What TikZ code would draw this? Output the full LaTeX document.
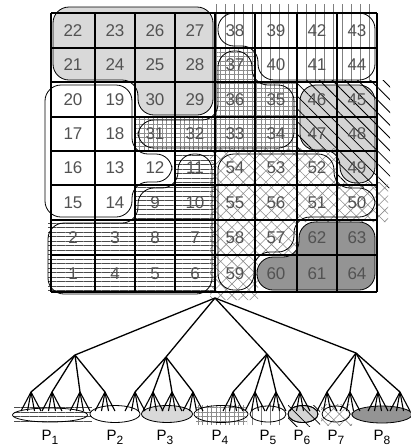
\documentclass[tikz,border=0pt]{standalone}
\usepackage{fontspec}
\setmainfont{Liberation Sans}
\usetikzlibrary{patterns.meta,shapes.geometric}
% rounded outlines of the partitions (inset)
\newcommand\oPone{(178,154) -- (212,154) -- (212,294) -- (48,294) -- (48,223) -- (138,223) -- (138,188) -- (178,188) -- cycle}
\newcommand\oPtwo{(45,85) -- (132,85) -- (132,154) -- (172,154) -- (172,182) -- (132,182) -- (132,217) -- (45,217) -- cycle}
\newcommand\oPthree{(53,7) -- (213,7) -- (213,115) -- (138,115) -- (138,80) -- (53,80) -- cycle}
\newcommand\oPfour{(218,51) -- (252,51) -- (252,85) -- (294,85) -- (294,148) -- (138,148) -- (138,120) -- (218,120) -- cycle}
\newcommand\oPfive{(218,13) -- (375,13) -- (375,80) -- (258,80) -- (258,46) -- (218,46) -- cycle}
\newcommand\oPsix{(300,85) -- (375,85) -- (375,183) -- (340,183) -- (340,150) -- (300,150) -- cycle}
\newcommand\oPseven{(218,154) -- (334,154) -- (334,188) -- (375,188) -- (375,217) -- (294,217) -- (294,252) -- (254,252) -- (254,290) -- (218,290) -- cycle}
\newcommand\oPeight{(299,222) -- (375,222) -- (375,290) -- (257,290) -- (257,257) -- (299,257) -- cycle}
\begin{document}
\begin{tikzpicture}[x=1pt,y=-1pt,
  gridline/.style={line width=1.8pt,black},
  outline/.style={draw=black,line width=0.8pt,rounded corners=16pt},
  roundfill/.style={rounded corners=16pt},
  num/.style={font=\fontsize{17}{17}\selectfont,text=black!68,inner sep=0pt},
  treeedge/.style={line width=1.3pt,black},
  part/.style={ellipse,draw=black,line width=0.8pt,inner sep=0pt},
  plabel/.style={font=\fontsize{15}{15}\selectfont,inner sep=0pt},
  hlines/.style={pattern={Lines[angle=0,distance=4.5pt,line width=0.8pt]},pattern color=black!70},
  gridpat/.style={pattern={Hatch[angle=0,distance=4.5pt,line width=0.5pt]},pattern color=black!45},
  vlines/.style={pattern={Lines[angle=90,distance=9pt,line width=0.6pt]},pattern color=black!50},
  dlines/.style={pattern={Lines[angle=-45,distance=9pt,line width=0.8pt]},pattern color=black},
  xhatch/.style={pattern={Hatch[angle=45,distance=8pt,line width=0.6pt]},pattern color=black!45},
]
\useasboundingbox (0,0) rectangle (411,448);

% ---------- grid fills and patterns ----------
\path[fill=black!17, roundfill] \oPsix;
\path[hlines] (175,151) -- (215,151) -- (215,292) -- (48,292) -- (48,220) -- (135,220) -- (135,185) -- (175,185) -- cycle;
\path[gridpat] (215,48) -- (255,48) -- (255,82) -- (297,82) -- (297,151) -- (135,151) -- (135,117) -- (215,117) -- cycle;
\path[vlines] (215,4) -- (377,4) -- (377,82) -- (255,82) -- (255,48) -- (215,48) -- cycle;
\path[dlines] (297,80) -- (390,80) -- (390,188) -- (337,188) -- (337,151) -- (297,151) -- cycle;
\path[xhatch] (210,148) -- (337,148) -- (337,182) -- (388,182) -- (388,222) -- (297,222) -- (297,255) -- (258,255) -- (258,300) -- (210,300) -- cycle;
\path[fill=black!15, roundfill] \oPthree;
\path[fill=black!42, roundfill] \oPeight;

% ---------- grid ----------
\foreach \x in {51,95,135,175,215,255,297,337,377}
  \draw[gridline] (\x,13) -- (\x,292);
\foreach \y in {13,48,82,117,151,185,220,255,292}
  \draw[gridline] (51,\y) -- (377,\y);

% ---------- outlines ----------
\draw[outline] \oPone;
\draw[outline] \oPtwo;
\draw[outline] \oPthree;
\draw[outline] \oPfour;
\draw[outline] \oPfive;
\draw[outline] \oPsix;
\draw[outline] \oPseven;
\draw[outline] \oPeight;

% ---------- cell numbers ----------
\foreach \row [count=\r] in {{22,23,26,27,38,39,42,43},{21,24,25,28,37,40,41,44},{20,19,30,29,36,35,46,45},{17,18,31,32,33,34,47,48},{16,13,12,11,54,53,52,49},{15,14,9,10,55,56,51,50},{2,3,8,7,58,57,62,63},{1,4,5,6,59,60,61,64}} {
  \pgfmathsetmacro\cy{{30.5,65,99.5,134,168,202.5,237.5,273.5}[\r-1]}
  \foreach \n [count=\c] in \row {
    \pgfmathsetmacro\cx{{73,115,155,195,235,276,317,357}[\c-1]}
    \node[num] (c\n) at (\cx,\cy) {\n};
  }
}

% ---------- partition ellipses ----------
\path[hlines] (14,407) rectangle (92,421);
\path[gridpat] (196,405) rectangle (247,424);
\path[vlines] (252,404) rectangle (284,425);
\path[dlines] (288,405) rectangle (320,426);
\path[xhatch] (321,404) rectangle (352,425);
\node[part, minimum width=75pt, minimum height=14pt] (e1) at (50,415) {};
\node[part, minimum width=50pt, minimum height=17pt, fill=white] (e2) at (115,414) {};
\node[part, minimum width=51pt, minimum height=17pt, fill=black!15] (e3) at (167,414) {};
\node[part, minimum width=54pt, minimum height=17pt] (e4) at (221,414) {};
\node[part, minimum width=36pt, minimum height=16pt] (e5) at (268,414) {};
\node[part, minimum width=30pt, minimum height=17pt, fill=black!17] (e6) at (303,414) {};
\path[dlines] (e6.center) ellipse [x radius=15pt, y radius=8.5pt];
\draw[line width=0.8pt] (e6.center) ellipse [x radius=15pt, y radius=8.5pt];
\node[part, minimum width=28pt, minimum height=16pt] (e7) at (336,414) {};
\node[part, minimum width=60pt, minimum height=17pt, fill=black!42] (e8) at (382,414.5) {};

% ---------- tree ----------
\coordinate (r) at (215,298);
\foreach \i/\x/\y in {1/75/355,2/166/357,3/267/354,4/356/353}
  \coordinate (a\i) at (\x,\y);
\foreach \x [count=\j] in {31,52,80,105,135,153,172,193,233,255,276,300,327,350,378,400} {
  \coordinate (b\j) at (\x,392);
  \foreach \d [count=\k] in {-10,-3.5,3.5,10} {
    \pgfmathsetmacro\lx{\x+\d}
    \coordinate (l\j-\k) at (\lx,411);
  }
}
\foreach \i in {1,...,4} \draw[treeedge] (r) -- (a\i);
\foreach \j in {1,...,16} {
  \pgfmathtruncatemacro\p{int((\j-1)/4)+1}
  \draw[treeedge] (a\p) -- (b\j);
  \foreach \k in {1,...,4} \draw[treeedge,line width=1.1pt] (b\j) -- (l\j-\k);
}

% ---------- labels ----------
\foreach \i/\x in {1/50,2/115,3/165,4/220,5/268,6/302,7/336,8/382}
  \node[plabel] (p\i) at (\x,437) {P\raisebox{-4pt}{\fontsize{12}{12}\selectfont\i}};
\end{tikzpicture}
\end{document}
